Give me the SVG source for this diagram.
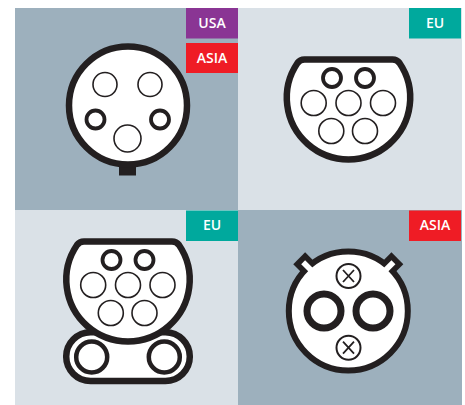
<svg xmlns="http://www.w3.org/2000/svg" width="465" height="405" viewBox="0 0 465 405">
<style>
.bd{fill:#fff;stroke:#231f20;stroke-width:6.5}
.t{fill:#fff;stroke:#231f20;stroke-width:1.6}
.k{fill:#fff;stroke:#231f20;stroke-width:3.8}
.b{fill:#fff;font:600 14px "Open Sans",sans-serif;text-anchor:middle}
.x{fill:none;stroke:#231f20;stroke-width:1.8}
</style>
<defs>
<path id="plug" class="bd" d="M -44 59.5 H 44 Q 48.5 59.5 51 63 A 61.7 61.7 0 1 1 -51 63 Q -48.5 59.5 -44 59.5 Z"/>
<g id="tab">
<rect x="-8.4" y="0" width="16.8" height="22" fill="#231f20"/>
</g>
</defs>
<rect x="15" y="8" width="223" height="202" fill="#9db0bd"/>
<rect x="238" y="8" width="224" height="202" fill="#dae1e7"/>
<rect x="15" y="210" width="223" height="195" fill="#dae1e7"/>
<rect x="238" y="210" width="224" height="195" fill="#9db0bd"/>
<g id="connector-1">
<rect x="119" y="160" width="17" height="15.5" fill="#231f20"/>
<circle class="bd" cx="128" cy="105.5" r="59"/>
<circle class="t" cx="105" cy="84.5" r="12"/>
<circle class="t" cx="150" cy="84.5" r="12"/>
<circle class="k" cx="95.5" cy="119.5" r="9"/>
<circle class="k" cx="160" cy="119.5" r="9"/>
<circle class="t" cx="127.5" cy="138.5" r="13.5"/>
</g>
<g id="badge-usa"><rect x="186" y="8" width="52" height="30.5" fill="#8a3594"/><text class="b" x="212" y="28">USA</text></g>
<g id="badge-asia-1"><rect x="186" y="43" width="52" height="30" fill="#ef1c25"/><text class="b" x="212" y="63">ASIA</text></g>
<g id="connector-2">
<use href="#plug" x="348.5"/>
<circle class="k" cx="332" cy="78" r="9"/>
<circle class="k" cx="365" cy="78" r="9"/>
<circle class="t" cx="313.7" cy="103" r="12.5"/>
<circle class="t" cx="348.5" cy="103" r="12.5"/>
<circle class="t" cx="383" cy="103" r="12.5"/>
<circle class="t" cx="331.3" cy="131" r="12.5"/>
<circle class="t" cx="365" cy="131" r="12.5"/>
</g>
<g id="badge-eu-1"><rect x="409" y="8" width="52" height="30.5" fill="#00a99d"/><text class="b" x="435" y="28">EU</text></g>
<g id="connector-3">
<rect class="bd" x="66.2" y="332.2" width="123.6" height="48.8" rx="24.4"/>
<circle cx="91.7" cy="357" r="15.5" fill="#fff" stroke="#231f20" stroke-width="4.5"/>
<circle cx="164.3" cy="357" r="15.5" fill="#fff" stroke="#231f20" stroke-width="4.5"/>
<use href="#plug" x="128" y="182"/>
<circle class="k" cx="111.5" cy="260" r="9"/>
<circle class="k" cx="144.5" cy="260" r="9"/>
<circle class="t" cx="93.2" cy="285" r="12.5"/>
<circle class="t" cx="128" cy="285" r="12.5"/>
<circle class="t" cx="162.5" cy="285" r="12.5"/>
<circle class="t" cx="110.8" cy="313" r="12.5"/>
<circle class="t" cx="144.5" cy="313" r="12.5"/>
</g>
<g id="badge-eu-2"><rect x="186" y="210.5" width="52" height="30.5" fill="#00a99d"/><text class="b" x="212" y="230">EU</text></g>
<g id="connector-4">
<use href="#tab" transform="translate(299.2 258.3) rotate(-45)"/>
<use href="#tab" transform="translate(397.4 258.3) rotate(45)"/>
<circle cx="348.3" cy="311" r="59.5" fill="#fff" stroke="#231f20" stroke-width="6"/>
<rect x="-2.8" y="5.6" width="5.6" height="18" fill="#fff" transform="translate(299.2 258.3) rotate(-45)"/>
<rect x="-2.8" y="5.6" width="5.6" height="18" fill="#fff" transform="translate(397.4 258.3) rotate(45)"/>
<circle cx="324" cy="311" r="17" fill="#fff" stroke="#231f20" stroke-width="7"/>
<circle cx="373" cy="311" r="17" fill="#fff" stroke="#231f20" stroke-width="7"/>
<circle cx="348.5" cy="276" r="12" fill="#fff" stroke="#231f20" stroke-width="2"/>
<circle cx="348.5" cy="347.7" r="12" fill="#fff" stroke="#231f20" stroke-width="2"/>
<path class="x" d="M343 270 L354 282 M354 270 L343 282 M343 341.7 L354 353.7 M354 341.7 L343 353.7"/>
</g>
<g id="badge-asia-2"><rect x="409" y="210.5" width="52" height="30.5" fill="#ef1c25"/><text class="b" x="435" y="230">ASIA</text></g>
</svg>
